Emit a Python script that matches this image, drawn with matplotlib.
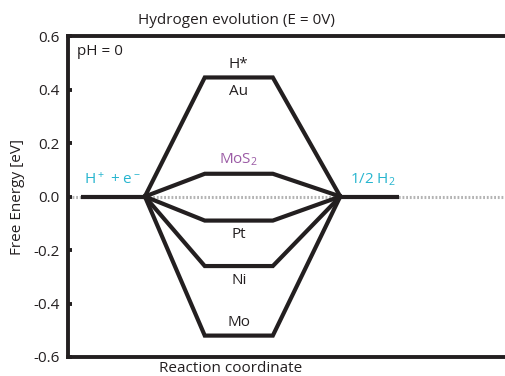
import matplotlib
matplotlib.use('Agg')
import matplotlib.pyplot as plt

plt.rcParams['font.family'] = ['Open Sans', 'DejaVu Sans']
plt.rcParams['font.size'] = 11
plt.rcParams['mathtext.fontset'] = 'custom'
plt.rcParams['mathtext.rm'] = 'Open Sans'
plt.rcParams['mathtext.default'] = 'regular'

# adsorption free energy of H* on each metal (eV)
metals = ['Au', 'MoS$_2$', 'Pt', 'Ni', 'Mo']
dG_H = [0.445, 0.085, -0.09, -0.26, -0.52]
metal_colors = ['#231f20', '#9b5ba5', '#231f20', '#231f20', '#231f20']
label_above = [False, True, False, False, True]

# reaction coordinate positions of the states
x_init = [0.2, 1.22]
x_ads = [2.17, 3.25]
x_final = [4.32, 5.25]

black = '#231f20'
cyan = '#27b5cf'
lw = 3.0

fig = plt.figure(figsize=(5.06, 3.76), dpi=100)
ax = fig.add_axes([68 / 506, 19 / 376, 1 - 68 / 506, 321 / 376])

# reference line at 0 eV
ax.axhline(0, xmin=0.01, color='#b4b4b4', lw=2.2, ls=(0, (0.6, 0.6)), zorder=1)

# initial and final states
ax.plot(x_init, [0, 0], color=black, lw=lw, solid_capstyle='butt', zorder=3)
ax.plot(x_final, [0, 0], color=black, lw=lw, solid_capstyle='butt', zorder=3)

xm = (x_ads[0] + x_ads[1]) / 2
for name, g, c, up in zip(metals, dG_H, metal_colors, label_above):
    ax.plot([x_init[1], x_ads[0], x_ads[1], x_final[0]], [0, g, g, 0],
            color=black, lw=lw, solid_joinstyle='miter', zorder=3)
    if up:
        ax.text(xm, g + 0.02, name, color=c, ha='center', va='bottom')
    else:
        ax.text(xm, g - 0.025, name, color=c, ha='center', va='top')

ax.text(xm, dG_H[0] + 0.02, 'H*', color=black, ha='center', va='bottom')

ax.text((x_init[0] + x_init[1]) / 2, 0.03, 'H$^+$ + e$^-$', color=cyan,
        ha='center', va='bottom')
ax.text((x_final[0] + x_final[1]) / 2 + 0.05, 0.03, '1/2 H$_2$', color=cyan,
        ha='center', va='bottom')

ax.text(0.15, 0.57, 'pH = 0', color=black, ha='left', va='top')

ax.set_xlim(0, 6.95)
ax.set_ylim(-0.6, 0.6)
ax.set_yticks([-0.6, -0.4, -0.2, 0.0, 0.2, 0.4, 0.6])
ax.set_yticklabels(['-0.6', '-0.4', '-0.2', '0.0', '0.2', '0.4', '0.6'])
ax.set_xticks([])
ax.tick_params(axis='y', direction='in', length=3, width=2.8, color=black,
               labelcolor=black, pad=6)

for side in ['left', 'top', 'bottom']:
    ax.spines[side].set_linewidth(2.8)
    ax.spines[side].set_color(black)
ax.spines['right'].set_visible(False)

fig.text(236 / 506, 1 - 20 / 376, 'Hydrogen evolution (E = 0V)', ha='center',
         va='center', color=black)
fig.text(231 / 506, 1 - 368 / 376, 'Reaction coordinate', ha='center',
         va='center', color=black)
fig.text(18 / 506, 1 - 197 / 376, 'Free Energy [eV]', ha='center', va='center',
         rotation=90, color=black)

fig.savefig('out.png', dpi=100)
